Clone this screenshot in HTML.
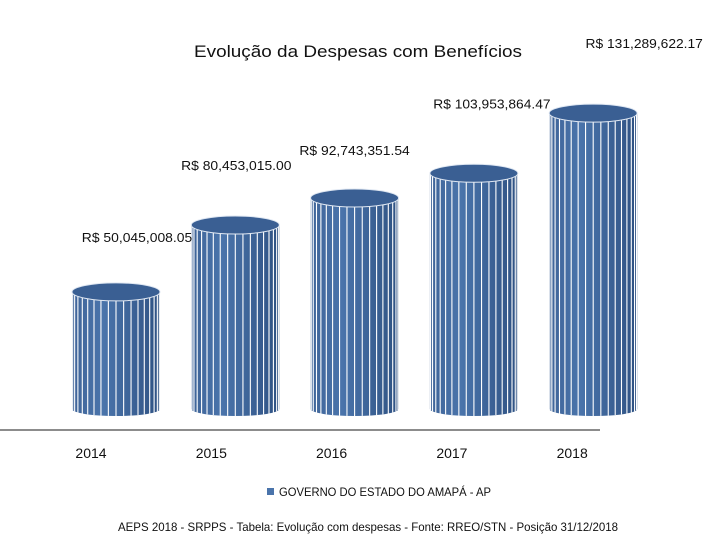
<!DOCTYPE html>
<html><head><meta charset="utf-8"><style>
body{margin:0;background:#fff;width:720px;height:539px;overflow:hidden;font-family:"Liberation Sans",sans-serif}
</style></head><body>
<svg width="720" height="539" viewBox="0 0 720 539">
<defs>
<linearGradient id="body" x1="0" x2="1" y1="0" y2="0">
<stop offset="0" stop-color="#3f6498"/><stop offset="0.35" stop-color="#4a74ab"/><stop offset="1" stop-color="#2f5283"/>
</linearGradient>
</defs>
<text x="358" y="57" text-anchor="middle" font-size="17" fill="#111" textLength="328" lengthAdjust="spacingAndGlyphs">Evolução da Despesas com Benefícios</text>
<line x1="0" y1="430" x2="600" y2="430" stroke="#8c8c8c" stroke-width="2"/>
<g id="bars"></g>
<g id="labels"></g>
<rect x="267" y="488" width="7" height="7" fill="#4a74ab"/>
<text x="279" y="496" font-size="12" fill="#111" textLength="212" lengthAdjust="spacingAndGlyphs">GOVERNO DO ESTADO DO AMAPÁ - AP</text>
<text x="368" y="531" text-anchor="middle" font-size="12" fill="#111" textLength="500" lengthAdjust="spacingAndGlyphs">AEPS 2018 - SRPPS - Tabela: Evolução com despesas - Fonte: RREO/STN - Posição 31/12/2018</text>
</svg>
<script>
const categories=["2014","2015","2016","2017","2018"];
const values=[50.045008,80.453015,92.743352,103.953864,131.289622];
const valueLabels=["R$ 50,045,008.05","R$ 80,453,015.00","R$ 92,743,351.54","R$ 103,953,864.47","R$ 131,289,622.17"];
const NS="http://www.w3.org/2000/svg";
function xPos(i){return 116+i*119.3;}
function yPos(v){return 402-2.2*v;}
const bottom=409,rx=44;
const labelOff=[[21,-50],[1,-55],[0,-43],[18,-65],[51,-65]];
const bars=document.getElementById('bars'),labels=document.getElementById('labels');
function mk(t,a){const e=document.createElementNS(NS,t);for(const k in a)e.setAttribute(k,a[k]);return e;}
values.forEach((v,i)=>{
 const cx=xPos(i),top=yPos(v);
 const g=mk('g',{});
 
 
 g.appendChild(mk('path',{d:`M${cx-rx},${top} L${cx-rx},${bottom} A${rx},7 0 0 0 ${cx+rx},${bottom} L${cx+rx},${top} Z`,fill:'url(#body)'}));
 for(let k=1;k<18;k++){const t=k/18;const x=cx-rx*Math.cos(Math.PI*t);
  const yb=bottom+7*Math.sin(Math.PI*t);
  g.appendChild(mk('line',{x1:x,y1:top,x2:x,y2:yb,stroke:'#fff','stroke-width':1.1}));}
 g.appendChild(mk('ellipse',{cx:cx,cy:top,rx:rx,ry:9,fill:'#3a5f93',stroke:'#dfe7f2','stroke-width':1}));
 bars.appendChild(g);
 const lab=mk('text',{x:cx+labelOff[i][0],y:top+labelOff[i][1],'text-anchor':'middle','font-size':13,fill:'#111',textLength:valueLabels[i].length*6.9,lengthAdjust:'spacingAndGlyphs'});
 lab.textContent=valueLabels[i];
 
 
 labels.appendChild(lab);
 const xl=mk('text',{x:cx-25+i*1,y:458,'text-anchor':'middle','font-size':14,fill:'#111'});
 xl.textContent=categories[i];
 
 
 labels.appendChild(xl);
});
</script>
</body></html>
